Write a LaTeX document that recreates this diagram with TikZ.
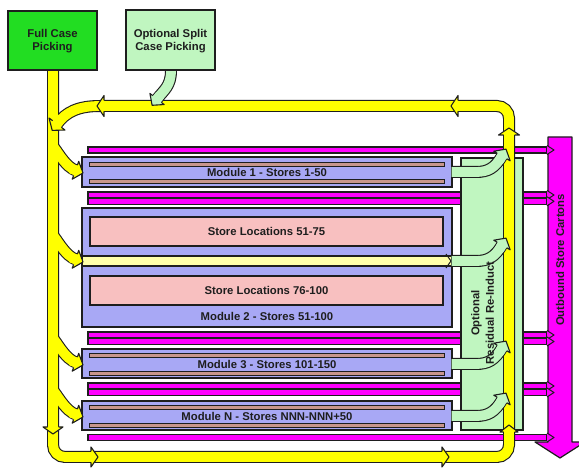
\documentclass[tikz,border=0pt]{standalone}
\usepackage{fontspec}
\setmainfont{Liberation Sans}
\definecolor{ylw}{RGB}{255,255,0}
\definecolor{pylw}{RGB}{255,255,170}
\definecolor{mag}{RGB}{255,0,255}
\definecolor{lav}{RGB}{168,168,245}
\definecolor{pnk}{RGB}{248,192,192}
\definecolor{lgrn}{RGB}{192,246,192}
\definecolor{fgrn}{RGB}{34,221,34}
\definecolor{brn}{RGB}{200,150,140}
\definecolor{ink}{RGB}{30,30,30}
% arrow head: x, y (tip), angle, fill, half width, length
\newcommand{\ahead}[6]{%
 \begin{scope}[shift={(#1,#2)},rotate=#3]
  \fill[#4] (-#6-5,-4.9) -- (-#6,-4.9) -- (-#6,-#5) -- (0,0) -- (-#6,#5) -- (-#6,4.9) -- (-#6-5,4.9) -- cycle;
  \draw[draw=ink,line width=1.1pt,line join=round] (-#6,-5.5) -- (-#6,-#5) -- (0,0) -- (-#6,#5) -- (-#6,5.5);
 \end{scope}}
\newcommand{\ypaths}[1]{%
 \draw[#1,rounded corners=12pt] (53,70) -- (53,457) -- (509,457) -- (509,106) -- (100,106);
 \draw[#1] (100,106) .. controls (78,106) and (66,112) .. (57,124);
 \foreach \t in {173,262,365,417}{
  \draw[#1] (53,\t-27) .. controls (59,\t-19) and (66.1,\t-6.1) .. (75.5,\t-2.7);
 }}
\newcommand{\gpaths}[1]{%
 \foreach \c in {172,261,364,416}{
  \draw[#1] (451.5,\c) -- (476,\c) .. controls (488,\c) and (495,\c-4) .. (502,\c-16);
 }
 \draw[#1] (171,70.5) .. controls (171,86) and (164,90) .. (157,99);
}
\newcommand{\mbar}[1]{\draw[fill=mag,draw=ink,line width=1.1pt] (88,#1-3) rectangle (547,#1+3);}
\newcommand{\mhead}[1]{\draw[fill=mag,draw=ink,line width=1pt,line join=round] (547,#1-4.5) -- (554,#1) -- (547,#1+4.5);}
\begin{document}
\begin{tikzpicture}[x=1pt,y=-1pt,
  ol/.style={draw=ink,line width=1.2pt},
  lbl/.style={font=\fontsize{11.3}{13.5}\selectfont\bfseries,text=ink,align=center,inner sep=0pt},
  rect/.style={ol,inner sep=0pt,minimum width=#1},
  brl/.style={fill=brn,draw=ink,line width=0.8pt}]
\useasboundingbox (0,0) rectangle (579,470);
\fill[white] (0,0) rectangle (579,470);

% outbound conveyor lines
\foreach \b in {150,195,201.3,335,341.5,386,392.5,437.5}{\mbar{\b}}

% modules
\node[rect=370pt,fill=lav,minimum height=30pt] (m1) at (267,172) {};
\draw[brl] (89,162) rectangle (444,166);
\draw[brl] (89,179) rectangle (444,183);
\node[lbl] (m1t) at (267,172.5) {Module 1 - Stores 1-50};

\node[rect=370pt,fill=lav,minimum height=119pt] (m2) at (267,267.5) {};
\node[rect=353pt,fill=pnk,minimum height=29pt,lbl,draw=ink,line width=1.2pt] (p1) at (266.5,231.5) {Store Locations 51-75};
\node[rect=353pt,fill=pnk,minimum height=29pt,lbl,draw=ink,line width=1.2pt] (p2) at (266.5,290.5) {Store Locations 76-100};
\draw[fill=pylw,draw=ink,line width=1.1pt] (82,256) rectangle (452,266);
\draw[draw=ink,line width=1pt] (446,254) -- (451,261) -- (446,268);
\node[lbl] (m2t) at (267,316) {Module 2 - Stores 51-100};

\node[rect=370pt,fill=lav,minimum height=29pt] (m3) at (267,363.5) {};
\draw[brl] (89,353) rectangle (444,357);
\draw[brl] (89,371) rectangle (444,375);
\node[lbl] (m3t) at (267,364) {Module 3 - Stores 101-150};

\node[rect=370pt,fill=lav,minimum height=29pt] (mN) at (267,415.5) {};
\draw[brl] (89,405) rectangle (444,409);
\draw[brl] (89,423) rectangle (444,427);
\node[lbl] (mNt) at (267,416) {Module N - Stores NNN-NNN+50};

% residual re-induct area
\node[rect=62pt,fill=lgrn,minimum height=272pt] (rr) at (492,294) {};

% yellow loop
\ypaths{line width=12pt,draw=ink}
\ypaths{line width=9.8pt,draw=ylw}
\ahead{97}{106}{180}{ylw}{10.5}{7}
\ahead{451}{106}{180}{ylw}{10.5}{7}
\ahead{509}{128}{90}{ylw}{10.5}{7}
\ahead{509}{425}{90}{ylw}{9}{7}
\ahead{53}{434}{-90}{ylw}{10}{7}
\ahead{98}{457}{0}{ylw}{10}{7}
\ahead{449}{457}{0}{ylw}{10}{7}
\ahead{52.2}{130.4}{233}{ylw}{10}{8}
\foreach \t in {173,262,365,417}{\ahead{83}{\t}{-20}{ylw}{9.5}{8}}

% green pipes
\gpaths{line width=12pt,draw=ink}
\gpaths{line width=9.8pt,draw=lgrn}
\foreach \c in {172,261,364,416}{\ahead{506}{\c-22.9}{59.7}{lgrn}{9.5}{8}}
\ahead{152.1}{105.3}{232}{lgrn}{9}{8}

% outbound store cartons
\draw[ol,fill=mag,line join=round] (548,137) -- (572,137) -- (572,442) -- (585,442) -- (560,458) -- (535,442) -- (548,442) -- cycle;
\foreach \b in {150,195,201.3,335,341.5,386,392.5,437.5}{\mhead{\b}}
\node[lbl,rotate=90] (obt) at (560,260) {Outbound Store Cartons};

% picking sources
\node[rect=89pt,fill=fgrn,minimum height=59pt] (fc) at (52.5,40.5) {};
\node[lbl,anchor=north] (fct) at (52.5,29) {Full Case\\Picking};
\node[rect=89pt,fill=lgrn,minimum height=60pt] (os) at (170.5,40) {};
\node[lbl,anchor=north] (ost) at (170.5,29) {Optional Split\\Case Picking};

\node[lbl,rotate=90,font=\fontsize{11.3}{14.5}\selectfont\bfseries] (rrt) at (482.5,313) {Optional\\Residual Re-Induct};
\end{tikzpicture}
\end{document}
